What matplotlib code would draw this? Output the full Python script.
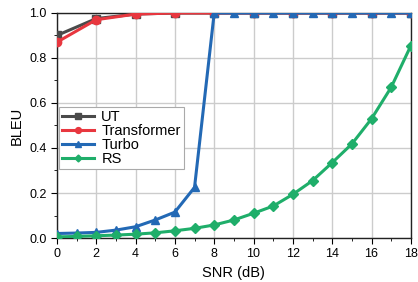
import matplotlib
matplotlib.use('Agg')
import matplotlib.pyplot as plt
from matplotlib.ticker import MultipleLocator

plt.rcParams['font.family'] = ['Liberation Sans', 'DejaVu Sans']

snr_even = [0, 2, 4, 6, 8, 10, 12, 14, 16, 18]
ut = [0.90, 0.975, 0.995, 1.0, 1.0, 1.0, 1.0, 1.0, 1.0, 1.0]
transformer = [0.87, 0.97, 0.995, 1.0, 1.0, 1.0, 1.0, 1.0, 1.0, 1.0]

snr_all = list(range(19))
turbo = [0.02, 0.022, 0.025, 0.035, 0.05, 0.08, 0.115, 0.225, 1.0, 1.0,
         1.0, 1.0, 1.0, 1.0, 1.0, 1.0, 1.0, 1.0, 1.0]
rs = [0.005, 0.007, 0.01, 0.013, 0.017, 0.023, 0.032, 0.043, 0.058, 0.08,
      0.11, 0.142, 0.194, 0.255, 0.335, 0.418, 0.53, 0.67, 0.855]

fig = plt.figure(figsize=(4.18, 2.82), dpi=100)
ax = fig.add_axes([0.136, 0.156, 0.847, 0.798])

ax.plot(snr_even, ut, color='#4a4a4a', marker='s', markersize=6, lw=2.2, label='UT', zorder=3)
ax.plot(snr_even, transformer, color='#e8373f', marker='o', markersize=6, lw=2.2, label='Transformer', zorder=4)
ax.plot(snr_all, turbo, color='#2369b5', marker='^', markersize=6, lw=2.2, label='Turbo', zorder=5)
ax.plot(snr_all, rs, color='#1fae6a', marker='D', markersize=5, lw=2.2, label='RS', zorder=6)

ax.set_xlim(0, 18)
ax.set_ylim(0, 1.0)
ax.xaxis.set_major_locator(MultipleLocator(2))
ax.xaxis.set_minor_locator(MultipleLocator(1))
ax.yaxis.set_major_locator(MultipleLocator(0.2))
ax.yaxis.set_minor_locator(MultipleLocator(0.1))
ax.grid(True, which='major', color='#cccccc', lw=1.0)
ax.set_axisbelow(True)
ax.tick_params(which='both', direction='out', labelsize=9, top=False, right=False)
ax.tick_params(which='major', length=4)
ax.tick_params(which='minor', length=2)
for s in ax.spines.values():
    s.set_linewidth(1.0)
    s.set_color('#222222')

ax.set_xlabel('SNR (dB)', fontsize=10.5)
ax.set_ylabel('BLEU', fontsize=10.5)

leg = ax.legend(loc='upper left', bbox_to_anchor=(0.006, 0.582), borderaxespad=0,
                fontsize=10.5, fancybox=False, framealpha=1, edgecolor='#aaaaaa',
                handlelength=2.2, borderpad=0.2, labelspacing=0.0,
                markerscale=0.7, handletextpad=0.5)
leg.get_frame().set_linewidth(0.8)

fig.savefig('out.png', dpi=100)
